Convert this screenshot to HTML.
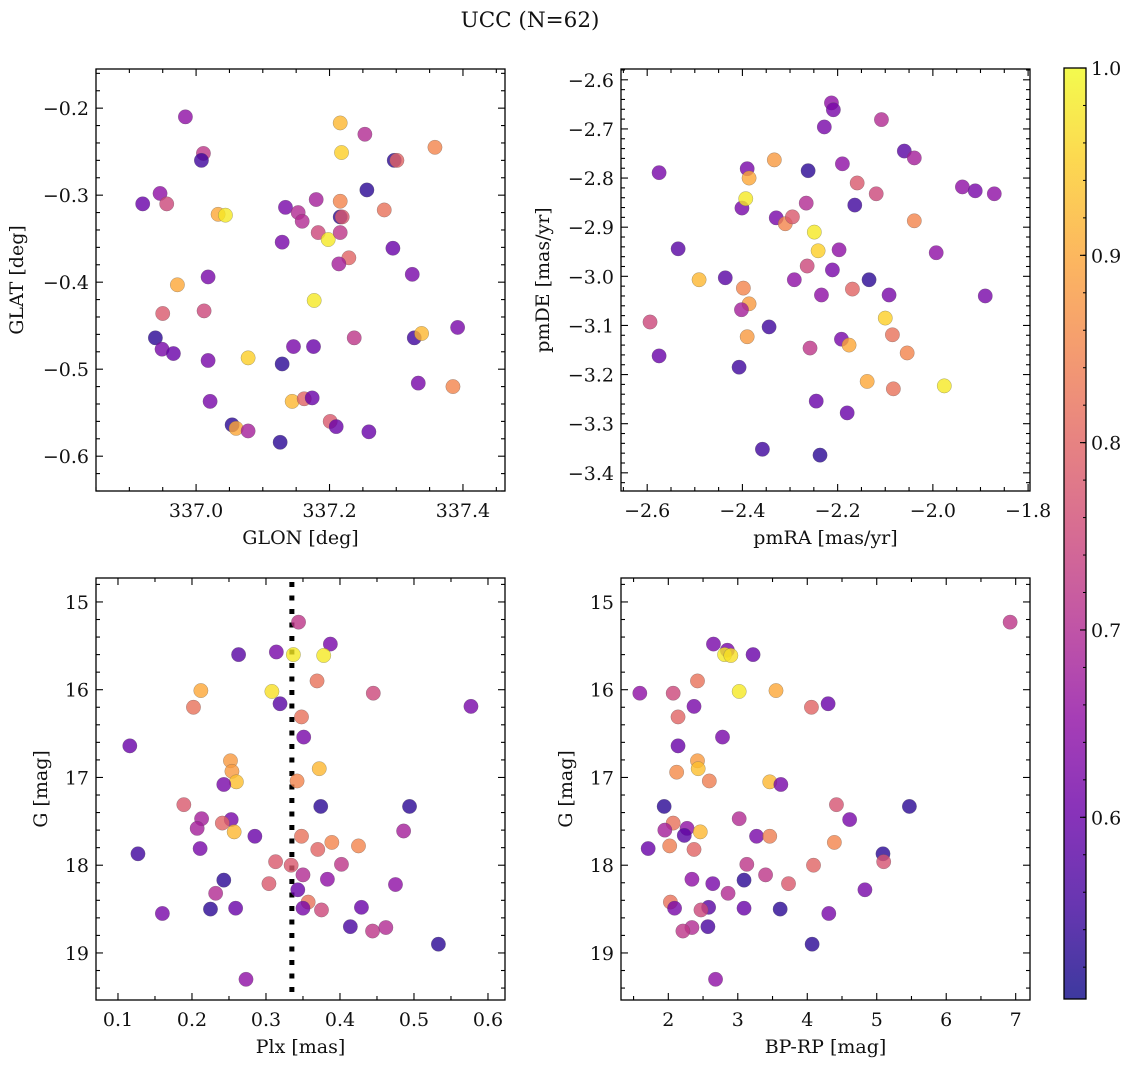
<!DOCTYPE html>
<html><head><meta charset="utf-8"><style>
html,body{margin:0;padding:0;background:#fff}
svg{display:block}
text{font-family:"DejaVu Serif","Liberation Serif",serif;fill:#111}
</style></head><body>
<svg id="fig" width="1136" height="1068" viewBox="0 0 1136 1068" xmlns="http://www.w3.org/2000/svg">
<text x="530" y="27" font-size="21.5" text-anchor="middle">UCC (N=62)</text>
</svg>
<script>
// Panel 1: GLON / GLAT
const glon=[336.984,337.011,337.008,336.946,336.920,336.956,337.033,337.044,337.018,336.972,336.950,337.012,336.939,336.949,336.966,337.018,337.078,337.021,337.054,337.060,337.078,337.126,337.129,337.146,337.176,337.144,337.162,337.174,337.177,337.129,337.134,337.153,337.159,337.180,337.183,337.198,337.216,337.216,337.219,337.216,337.216,337.218,337.229,337.214,337.237,337.201,337.210,337.253,337.256,337.259,337.282,337.295,337.297,337.301,337.324,337.327,337.333,337.338,337.358,337.392,337.385];
const glat=[-0.210,-0.252,-0.260,-0.298,-0.310,-0.310,-0.322,-0.323,-0.394,-0.403,-0.436,-0.433,-0.464,-0.477,-0.482,-0.490,-0.487,-0.537,-0.564,-0.568,-0.571,-0.584,-0.494,-0.474,-0.474,-0.537,-0.534,-0.533,-0.421,-0.354,-0.314,-0.320,-0.330,-0.305,-0.343,-0.351,-0.325,-0.307,-0.325,-0.343,-0.217,-0.251,-0.372,-0.379,-0.464,-0.560,-0.566,-0.230,-0.294,-0.572,-0.317,-0.361,-0.260,-0.260,-0.391,-0.464,-0.516,-0.459,-0.245,-0.452,-0.520];
const c1=[0.65,0.72,0.55,0.65,0.6,0.75,0.9,0.98,0.62,0.9,0.78,0.75,0.53,0.62,0.6,0.62,0.95,0.62,0.53,0.9,0.68,0.53,0.53,0.62,0.6,0.92,0.8,0.6,0.98,0.62,0.62,0.7,0.7,0.68,0.75,0.98,0.53,0.85,0.78,0.72,0.92,0.95,0.8,0.68,0.72,0.78,0.6,0.7,0.53,0.6,0.82,0.6,0.53,0.8,0.62,0.55,0.62,0.92,0.85,0.62,0.85];
// Panel 2: pmRA / pmDE
const pmra=[-2.575,-2.594,-2.575,-2.535,-2.491,-2.407,-2.436,-2.401,-2.393,-2.390,-2.386,-2.386,-2.390,-2.398,-2.402,-2.344,-2.358,-2.333,-2.329,-2.310,-2.295,-2.291,-2.264,-2.262,-2.266,-2.258,-2.249,-2.241,-2.234,-2.245,-2.237,-2.228,-2.213,-2.209,-2.211,-2.190,-2.197,-2.192,-2.180,-2.169,-2.176,-2.159,-2.164,-2.138,-2.134,-2.119,-2.108,-2.100,-2.092,-2.085,-2.083,-2.060,-2.054,-2.039,-2.039,-1.993,-1.976,-1.938,-1.911,-1.890,-1.871];
const pmde=[-2.789,-3.093,-3.162,-2.944,-3.007,-3.185,-3.003,-2.861,-2.842,-2.781,-2.800,-3.056,-3.123,-3.024,-3.068,-3.103,-3.352,-2.763,-2.881,-2.893,-2.879,-3.007,-2.979,-2.785,-2.851,-3.146,-2.910,-2.948,-3.038,-3.254,-3.364,-2.696,-2.647,-2.661,-2.987,-2.771,-2.946,-3.128,-3.278,-3.026,-3.140,-2.810,-2.855,-3.214,-3.007,-2.832,-2.681,-3.085,-3.038,-3.119,-3.229,-2.745,-3.156,-2.759,-2.887,-2.952,-3.223,-2.818,-2.826,-3.040,-2.832];
const c2=[0.62,0.75,0.6,0.58,0.92,0.55,0.58,0.62,0.98,0.62,0.9,0.88,0.88,0.85,0.68,0.55,0.55,0.88,0.62,0.85,0.78,0.65,0.75,0.53,0.7,0.72,0.98,0.95,0.65,0.6,0.53,0.62,0.65,0.62,0.62,0.65,0.65,0.62,0.6,0.8,0.9,0.78,0.55,0.9,0.53,0.75,0.7,0.95,0.62,0.82,0.82,0.58,0.85,0.68,0.85,0.65,0.98,0.65,0.62,0.62,0.65];
// Panel 3: Plx / G
const plx=[0.344,0.387,0.263,0.314,0.337,0.378,0.369,0.212,0.308,0.445,0.202,0.319,0.577,0.348,0.351,0.116,0.252,0.254,0.372,0.342,0.260,0.243,0.189,0.374,0.494,0.213,0.253,0.241,0.207,0.257,0.486,0.285,0.348,0.389,0.370,0.425,0.211,0.127,0.313,0.334,0.402,0.350,0.383,0.243,0.304,0.475,0.343,0.232,0.357,0.350,0.375,0.225,0.259,0.429,0.160,0.414,0.444,0.462,0.533,0.273];
const g3=[15.23,15.48,15.60,15.57,15.60,15.61,15.90,16.01,16.02,16.04,16.20,16.16,16.19,16.31,16.54,16.64,16.81,16.93,16.90,17.04,17.05,17.08,17.31,17.33,17.33,17.47,17.48,17.52,17.58,17.62,17.61,17.67,17.67,17.74,17.82,17.78,17.81,17.87,17.96,18.00,17.99,18.11,18.16,18.17,18.21,18.22,18.28,18.32,18.42,18.49,18.51,18.50,18.49,18.48,18.55,18.70,18.75,18.71,18.90,19.30];
const c3=[0.72,0.62,0.58,0.62,0.98,0.98,0.82,0.9,0.97,0.75,0.82,0.58,0.62,0.82,0.62,0.6,0.88,0.88,0.92,0.85,0.93,0.62,0.78,0.53,0.53,0.68,0.62,0.8,0.68,0.92,0.68,0.6,0.82,0.85,0.8,0.85,0.62,0.55,0.78,0.78,0.72,0.7,0.65,0.53,0.78,0.65,0.6,0.7,0.82,0.62,0.75,0.53,0.6,0.6,0.62,0.56,0.72,0.7,0.53,0.65];
// Panel 4: BP-RP / G
const bprp=[6.92,2.65,2.85,2.81,2.90,3.22,2.42,1.59,2.07,3.02,3.55,2.37,4.06,4.30,2.14,2.78,2.14,2.42,2.43,2.12,2.59,3.46,3.62,1.94,4.42,5.47,3.02,4.61,2.07,1.95,2.27,2.23,2.46,3.27,3.46,1.71,2.02,2.37,4.39,5.09,5.10,3.13,4.09,2.34,2.64,3.09,3.40,3.73,4.83,2.86,2.03,2.09,2.58,2.47,3.09,3.61,4.31,2.34,2.21,2.57,4.07,2.68];
const g4=[15.23,15.48,15.55,15.60,15.61,15.60,15.90,16.04,16.04,16.02,16.01,16.19,16.20,16.16,16.31,16.54,16.64,16.81,16.90,16.94,17.04,17.05,17.08,17.33,17.31,17.33,17.47,17.48,17.52,17.60,17.58,17.66,17.62,17.67,17.67,17.81,17.78,17.82,17.74,17.87,17.96,17.99,18.00,18.16,18.21,18.17,18.11,18.21,18.28,18.32,18.42,18.49,18.48,18.51,18.49,18.50,18.55,18.71,18.75,18.70,18.90,19.30];
const c4=[0.72,0.62,0.62,0.98,0.97,0.6,0.82,0.65,0.75,0.98,0.9,0.62,0.8,0.6,0.8,0.62,0.6,0.88,0.93,0.86,0.84,0.92,0.62,0.53,0.77,0.53,0.7,0.62,0.82,0.68,0.65,0.58,0.92,0.62,0.84,0.6,0.84,0.8,0.85,0.53,0.77,0.72,0.8,0.65,0.62,0.53,0.72,0.78,0.62,0.7,0.82,0.62,0.58,0.75,0.6,0.53,0.62,0.7,0.72,0.56,0.53,0.65];
const plxLine=0.335;
const cmin=0.503, cmax=1.0;
const cbTicks=[0.6,0.7,0.8,0.9,1.0];

const NS="http://www.w3.org/2000/svg";
const svg=document.getElementById('fig');
const FS=19;
function mk(tag,attrs,parent){const e=document.createElementNS(NS,tag);for(const k in attrs)e.setAttribute(k,attrs[k]);(parent||svg).appendChild(e);return e;}
const stops=[[13,8,135],[65,4,157],[106,0,168],[143,13,164],[177,42,144],[204,71,120],[225,100,98],[242,132,75],[252,166,54],[252,206,37],[240,249,33]];
function plasma(t){t=Math.max(0,Math.min(1,t));const f=t*10;const i=Math.min(9,Math.floor(f));const u=f-i;const a=stops[i],b=stops[i+1];return 'rgb('+[0,1,2].map(k=>Math.round(a[k]+(b[k]-a[k])*u)).join(',')+')';}
function fmt(v,d){const s=Math.abs(v).toFixed(d);return (v<-1e-9?'\u2212':'')+s;}
function ticksRange(a,b,step){const r=[];const s=Math.ceil(a/step-1e-6);for(let k=s;k*step<=b+1e-9;k++)r.push(+(k*step).toFixed(6));return r;}

function panel(o){
  const X=v=>o.L+(v-o.x0)/(o.x1-o.x0)*(o.R-o.L);
  const Y=v=>o.T+(v-o.yTop)/(o.yBot-o.yTop)*(o.B-o.T);
  const g=mk('g',{});
  
  
  ticksRange(Math.min(o.x0,o.x1),Math.max(o.x0,o.x1),o.xminor).forEach(v=>{const x=X(v);const maj=Math.abs(v/o.xmajor-Math.round(v/o.xmajor))<1e-6;const l=maj?7:4;
    mk('line',{x1:x,x2:x,y1:o.B,y2:o.B-l,stroke:'#000','stroke-width':1.1},g);mk('line',{x1:x,x2:x,y1:o.T,y2:o.T+l,stroke:'#000','stroke-width':1.1},g);
    if(maj){const t=mk('text',{x:x,y:o.B+26,'font-size':FS,'text-anchor':'middle'},g);t.textContent=fmt(v,o.xd);}});
  ticksRange(Math.min(o.yTop,o.yBot),Math.max(o.yTop,o.yBot),o.yminor).forEach(v=>{const y=Y(v);const maj=Math.abs(v/o.ymajor-Math.round(v/o.ymajor))<1e-6;const l=maj?7:4;
    mk('line',{x1:o.L,x2:o.L+l,y1:y,y2:y,stroke:'#000','stroke-width':1.1},g);mk('line',{x1:o.R,x2:o.R-l,y1:y,y2:y,stroke:'#000','stroke-width':1.1},g);
    if(maj){const t=mk('text',{x:o.L-7,y:y+7,'font-size':FS,'text-anchor':'end'},g);t.textContent=fmt(v,o.yd);}});
  if(o.vline!==undefined){const l=mk('line',{x1:X(o.vline),x2:X(o.vline),y1:o.T+4,y2:o.B,stroke:'#000','stroke-width':5,'stroke-dasharray':'5 8.5'},g);}
  for(let i=0;i<o.xs.length;i++){
    const c=mk('circle',{cx:X(o.xs[i]),cy:Y(o.ys[i]),r:7.2,fill:plasma((o.cs[i]-cmin)/(cmax-cmin)),'fill-opacity':0.8,stroke:'#555','stroke-opacity':0.5,'stroke-width':0.5},g);
    
    
  }
  const fr=mk('rect',{x:o.L,y:o.T,width:o.R-o.L,height:o.B-o.T,fill:'none',stroke:'#000','stroke-width':1.3},g);
  
  const xl=mk('text',{x:(o.L+o.R)/2,y:o.B+53,'font-size':FS,'text-anchor':'middle'},g);xl.textContent=o.xlabel;
  
  const yx=o.L-(o.ylabOff);const yy=(o.T+o.B)/2;
  const yl=mk('text',{x:yx,y:yy,'font-size':FS,'text-anchor':'middle',transform:'rotate(-90 '+yx+' '+yy+')'},g);yl.textContent=o.ylabel;
  
}
panel({name:'glon-glat-panel',L:96,R:505,T:69,B:491,x0:336.85,x1:337.463,yTop:-0.155,yBot:-0.640,xmajor:0.2,xminor:0.05,ymajor:0.1,yminor:0.02,xd:1,yd:1,xs:glon,ys:glat,cs:c1,xlabel:'GLON [deg]',ylabel:'GLAT [deg]',ylabOff:73});
panel({name:'pm-panel',L:621,R:1030,T:69,B:491,x0:-2.655,x1:-1.796,yTop:-2.578,yBot:-3.437,xmajor:0.2,xminor:0.05,ymajor:0.1,yminor:0.02,xd:1,yd:1,xs:pmra,ys:pmde,cs:c2,xlabel:'pmRA [mas/yr]',ylabel:'pmDE [mas/yr]',ylabOff:72});
panel({name:'plx-g-panel',L:96,R:505,T:578,B:1000,x0:0.0703,x1:0.623,yTop:14.727,yBot:19.536,xmajor:0.1,xminor:0.05,ymajor:1,yminor:0.2,xd:1,yd:0,xs:plx,ys:g3,cs:c3,xlabel:'Plx [mas]',ylabel:'G [mag]',ylabOff:49,vline:plxLine});
panel({name:'cmd-panel',L:621,R:1030,T:578,B:1000,x0:1.319,x1:7.206,yTop:14.727,yBot:19.536,xmajor:1,xminor:0.5,ymajor:1,yminor:0.2,xd:0,yd:0,xs:bprp,ys:g4,cs:c4,xlabel:'BP-RP [mag]',ylabel:'G [mag]',ylabOff:49});

const CB={L:1064,R:1086,T:68,B:999};
const defs=mk('defs',{});
const lg=mk('linearGradient',{id:'pg',x1:0,y1:1,x2:0,y2:0},defs);
for(let i=0;i<=20;i++){mk('stop',{offset:i/20,'stop-color':plasma(i/20)},lg);}
const cbg=mk('g',{});


mk('rect',{x:CB.L,y:CB.T,width:CB.R-CB.L,height:CB.B-CB.T,fill:'url(#pg)','fill-opacity':0.8},cbg);
mk('rect',{x:CB.L,y:CB.T,width:CB.R-CB.L,height:CB.B-CB.T,fill:'none',stroke:'#000','stroke-width':1.3},cbg);
const CY=v=>CB.B-(v-cmin)/(cmax-cmin)*(CB.B-CB.T);
ticksRange(cmin,cmax,0.02).forEach(v=>{const y=CY(v);mk('line',{x1:CB.R,x2:CB.R-3,y1:y,y2:y,stroke:'#000','stroke-width':1},cbg);});
cbTicks.forEach(v=>{const y=CY(v);mk('line',{x1:CB.R,x2:CB.R-6,y1:y,y2:y,stroke:'#000','stroke-width':1.1},cbg);
  const t=mk('text',{x:CB.R+5,y:y+7,'font-size':FS},cbg);t.textContent=v.toFixed(1);
  });
</script>
</body></html>
